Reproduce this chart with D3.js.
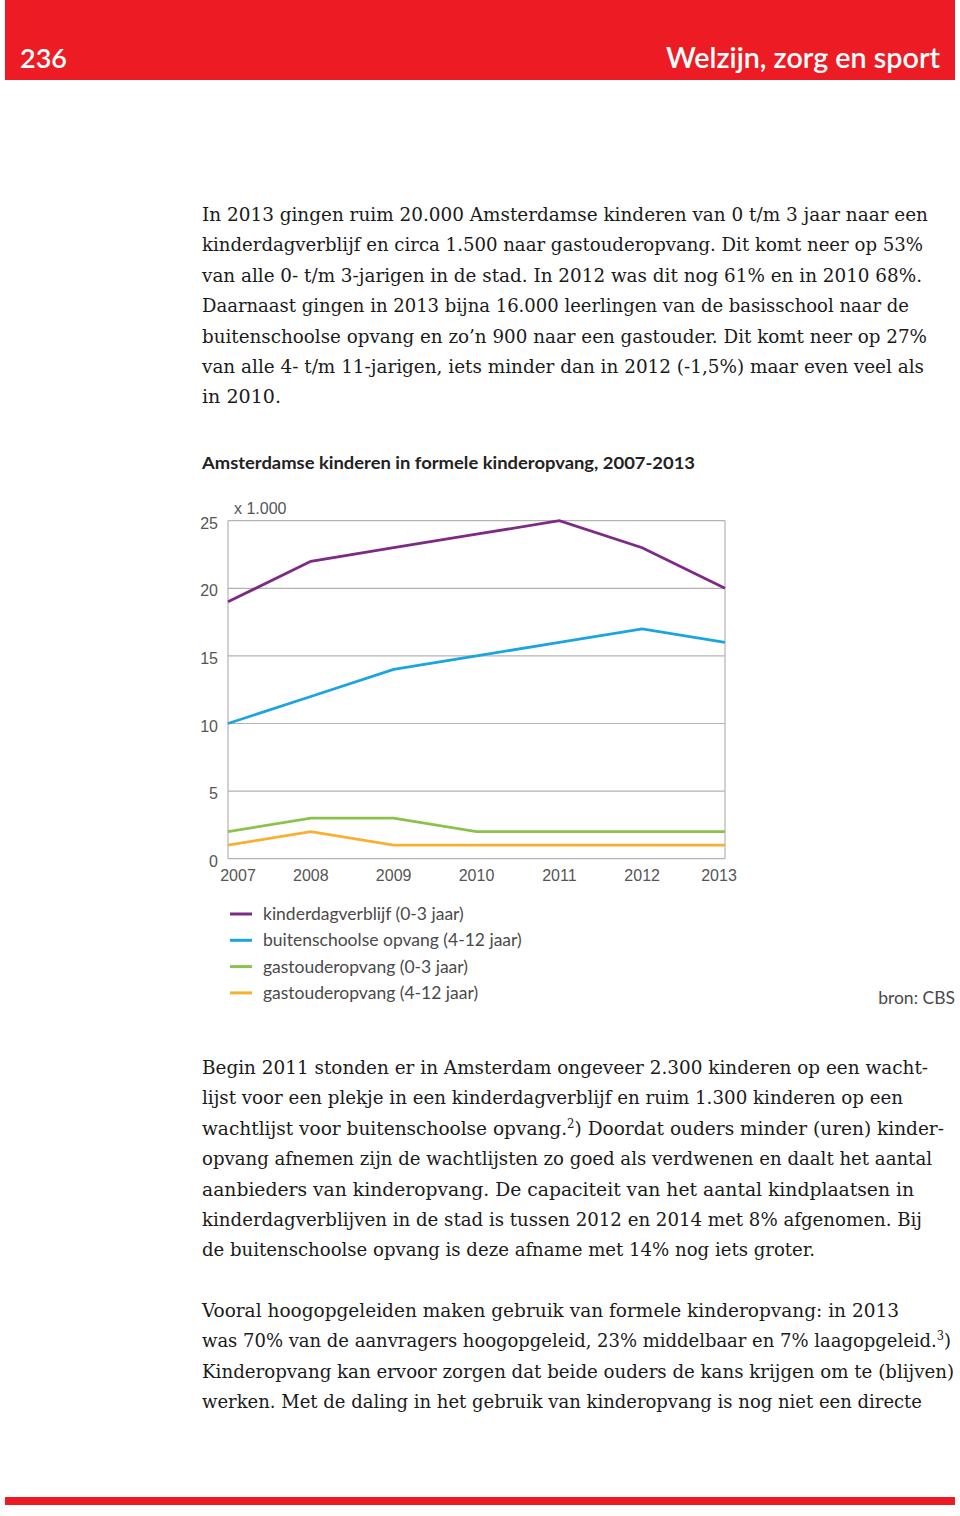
<!DOCTYPE html>
<html><head><meta charset="utf-8">
<script src="https://cdn.jsdelivr.net/npm/d3@7"></script>
<style>body{margin:0;background:#fff}svg{display:block}</style>
</head><body>
<svg id="c" width="960" height="1516"></svg>
<script>
const years = ["2007","2008","2009","2010","2011","2012","2013"];
const kdv = [19, 22, 23, 24, 25, 23, 20];
const bso = [10, 12, 14, 15, 16, 17, 16];
const gastJong = [2, 3, 3, 2, 2, 2, 2];
const gastOud = [1, 2, 1, 1, 1, 1, 1];
const yTicks = [0, 5, 10, 15, 20, 25];
const seriesNames = ["kinderdagverblijf (0-3 jaar)","buitenschoolse opvang (4-12 jaar)","gastouderopvang (0-3 jaar)","gastouderopvang (4-12 jaar)"];
const seriesColors = ["#7d2a84","#1ba5de","#8dc14d","#f7b02f"];
const seriesValues = [kdv, bso, gastJong, gastOud];

const para1 = [
 ["In 2013 gingen ruim 20.000 Amsterdamse kinderen van 0 t/m 3 jaar naar een", 928],
 ["kinderdagverblijf en circa 1.500 naar gastouderopvang. Dit komt neer op 53%", 923],
 ["van alle 0- t/m 3-jarigen in de stad. In 2012 was dit nog 61% en in 2010 68%.", 922],
 ["Daarnaast gingen in 2013 bijna 16.000 leerlingen van de basisschool naar de", 909],
 ["buitenschoolse opvang en zo’n 900 naar een gastouder. Dit komt neer op 27%", 927],
 ["van alle 4- t/m 11-jarigen, iets minder dan in 2012 (-1,5%) maar even veel als", 924],
 ["in 2010.", 281]
];
const para2 = [
 ["Begin 2011 stonden er in Amsterdam ongeveer 2.300 kinderen op een wacht-", 928],
 ["lijst voor een plekje in een kinderdagverblijf en ruim 1.300 kinderen op een", 903],
 ["wachtlijst voor buitenschoolse opvang.^2) Doordat ouders minder (uren) kinder-", 944],
 ["opvang afnemen zijn de wachtlijsten zo goed als verdwenen en daalt het aantal", 932],
 ["aanbieders van kinderopvang. De capaciteit van het aantal kindplaatsen in", 914],
 ["kinderdagverblijven in de stad is tussen 2012 en 2014 met 8% afgenomen. Bij", 922],
 ["de buitenschoolse opvang is deze afname met 14% nog iets groter.", 815]
];
const para3 = [
 ["Vooral hoogopgeleiden maken gebruik van formele kinderopvang: in 2013", 899],
 ["was 70% van de aanvragers hoogopgeleid, 23% middelbaar en 7% laagopgeleid.^3)", 951],
 ["Kinderopvang kan ervoor zorgen dat beide ouders de kans krijgen om te (blijven)", 954],
 ["werken. Met de daling in het gebruik van kinderopvang is nog niet een directe", 922]
];

const svg = d3.select("#c");
const red = "#ed1c24";

// header
svg.append("rect").attr("x",5).attr("y",0).attr("width",950).attr("height",80).attr("fill",red);
svg.append("text").attr("x",20).attr("y",68).attr("fill","#fff")
  .attr("font-family","Lato").attr("font-weight",600).attr("font-size",27).text("236");
svg.append("text").attr("x",940).attr("y",68).attr("fill","#fff").attr("text-anchor","end")
  .attr("font-family","Lato").attr("font-weight",600).attr("font-size",28)
  .attr("textLength",274).attr("lengthAdjust","spacingAndGlyphs").text("Welzijn, zorg en sport");
// footer line
svg.append("rect").attr("x",5).attr("y",1497).attr("width",950).attr("height",8).attr("fill",red);

// body text
function para(lines, y0){
  lines.forEach((l,i)=>{
    const t = svg.append("text").attr("x",202).attr("y",y0+i*30.4)
      .attr("font-family","DejaVu Serif Condensed, DejaVu Serif").attr("font-size",19).attr("fill","#1a1a1a");
    const parts = l[0].split(/\^(\d)/);
    parts.forEach((p,j)=>{
      if(j%2===1) t.append("tspan").attr("baseline-shift","super").attr("font-size",12).text(p);
      else if(p) t.append("tspan").text(p);
    });
    t.attr("textLength", l[1]-202).attr("lengthAdjust","spacingAndGlyphs");
  });
}
para(para1, 221);
para(para2, 1074);
para(para3, 1317);

// chart title
svg.append("text").attr("x",202).attr("y",469).attr("font-family","Lato").attr("font-weight",700)
  .attr("font-size",17).attr("fill","#222").attr("textLength",493).attr("lengthAdjust","spacingAndGlyphs")
  .text("Amsterdamse kinderen in formele kinderopvang, 2007-2013");

const x = d3.scalePoint().domain(years).range([228,725]);
const y = d3.scaleLinear().domain([0,25]).range([858.7,520.7]);
const g = svg.append("g");
const axisFont = "Liberation Sans, Arial";

// gridlines
g.selectAll("line.grid").data(yTicks).join("line").attr("class","grid")
  .attr("x1",x.range()[0]).attr("x2",x.range()[1]).attr("y1",d=>y(d)).attr("y2",d=>y(d))
  .attr("stroke","#b3b3b3").attr("stroke-width",1.2);
// vertical borders
[x.range()[0], x.range()[1]].forEach(xx=>{
  g.append("line").attr("x1",xx).attr("x2",xx).attr("y1",y(25)).attr("y2",y(0))
   .attr("stroke","#b3b3b3").attr("stroke-width",1.2);
});
// y labels
g.selectAll("text.yl").data(yTicks).join("text").attr("class","yl")
  .attr("x",218).attr("y",d=>y(d)+8).attr("text-anchor","end")
  .attr("font-family",axisFont).attr("font-size",16).attr("fill","#555").text(d=>d);
g.append("text").attr("x",234).attr("y",514).attr("font-family",axisFont).attr("font-size",16)
  .attr("fill","#555").text("x 1.000");
// x labels
g.selectAll("text.xl").data(years).join("text").attr("class","xl")
  .attr("x",(d,i)=> x(d) + (i===0?10:(i===years.length-1?-6:0)))
  .attr("y",881).attr("text-anchor","middle")
  .attr("font-family",axisFont).attr("font-size",16).attr("fill","#555").text(d=>d);

// lines
const line = d3.line().x((d,i)=>x(years[i])).y(d=>y(d));
seriesValues.forEach((vals,k)=>{
  g.append("path").datum(vals).attr("d",line).attr("fill","none")
   .attr("stroke",seriesColors[k]).attr("stroke-width",2.8).attr("stroke-linejoin","miter");
});

// legend
seriesNames.forEach((n,k)=>{
  const ly = 914 + k*26.3;
  g.append("line").attr("x1",230).attr("x2",252).attr("y1",ly).attr("y2",ly)
    .attr("stroke",seriesColors[k]).attr("stroke-width",3);
  g.append("text").attr("x",263).attr("y",ly+6).attr("font-family","Lato").attr("font-weight",400)
    .attr("font-size",17.5).attr("fill","#4a4a4a").text(n);
});
svg.append("text").attr("x",955).attr("y",1004).attr("text-anchor","end").attr("font-family","Lato")
  .attr("font-weight",400).attr("font-size",17.5).attr("fill","#4a4a4a").text("bron: CBS");
</script>
</body></html>
